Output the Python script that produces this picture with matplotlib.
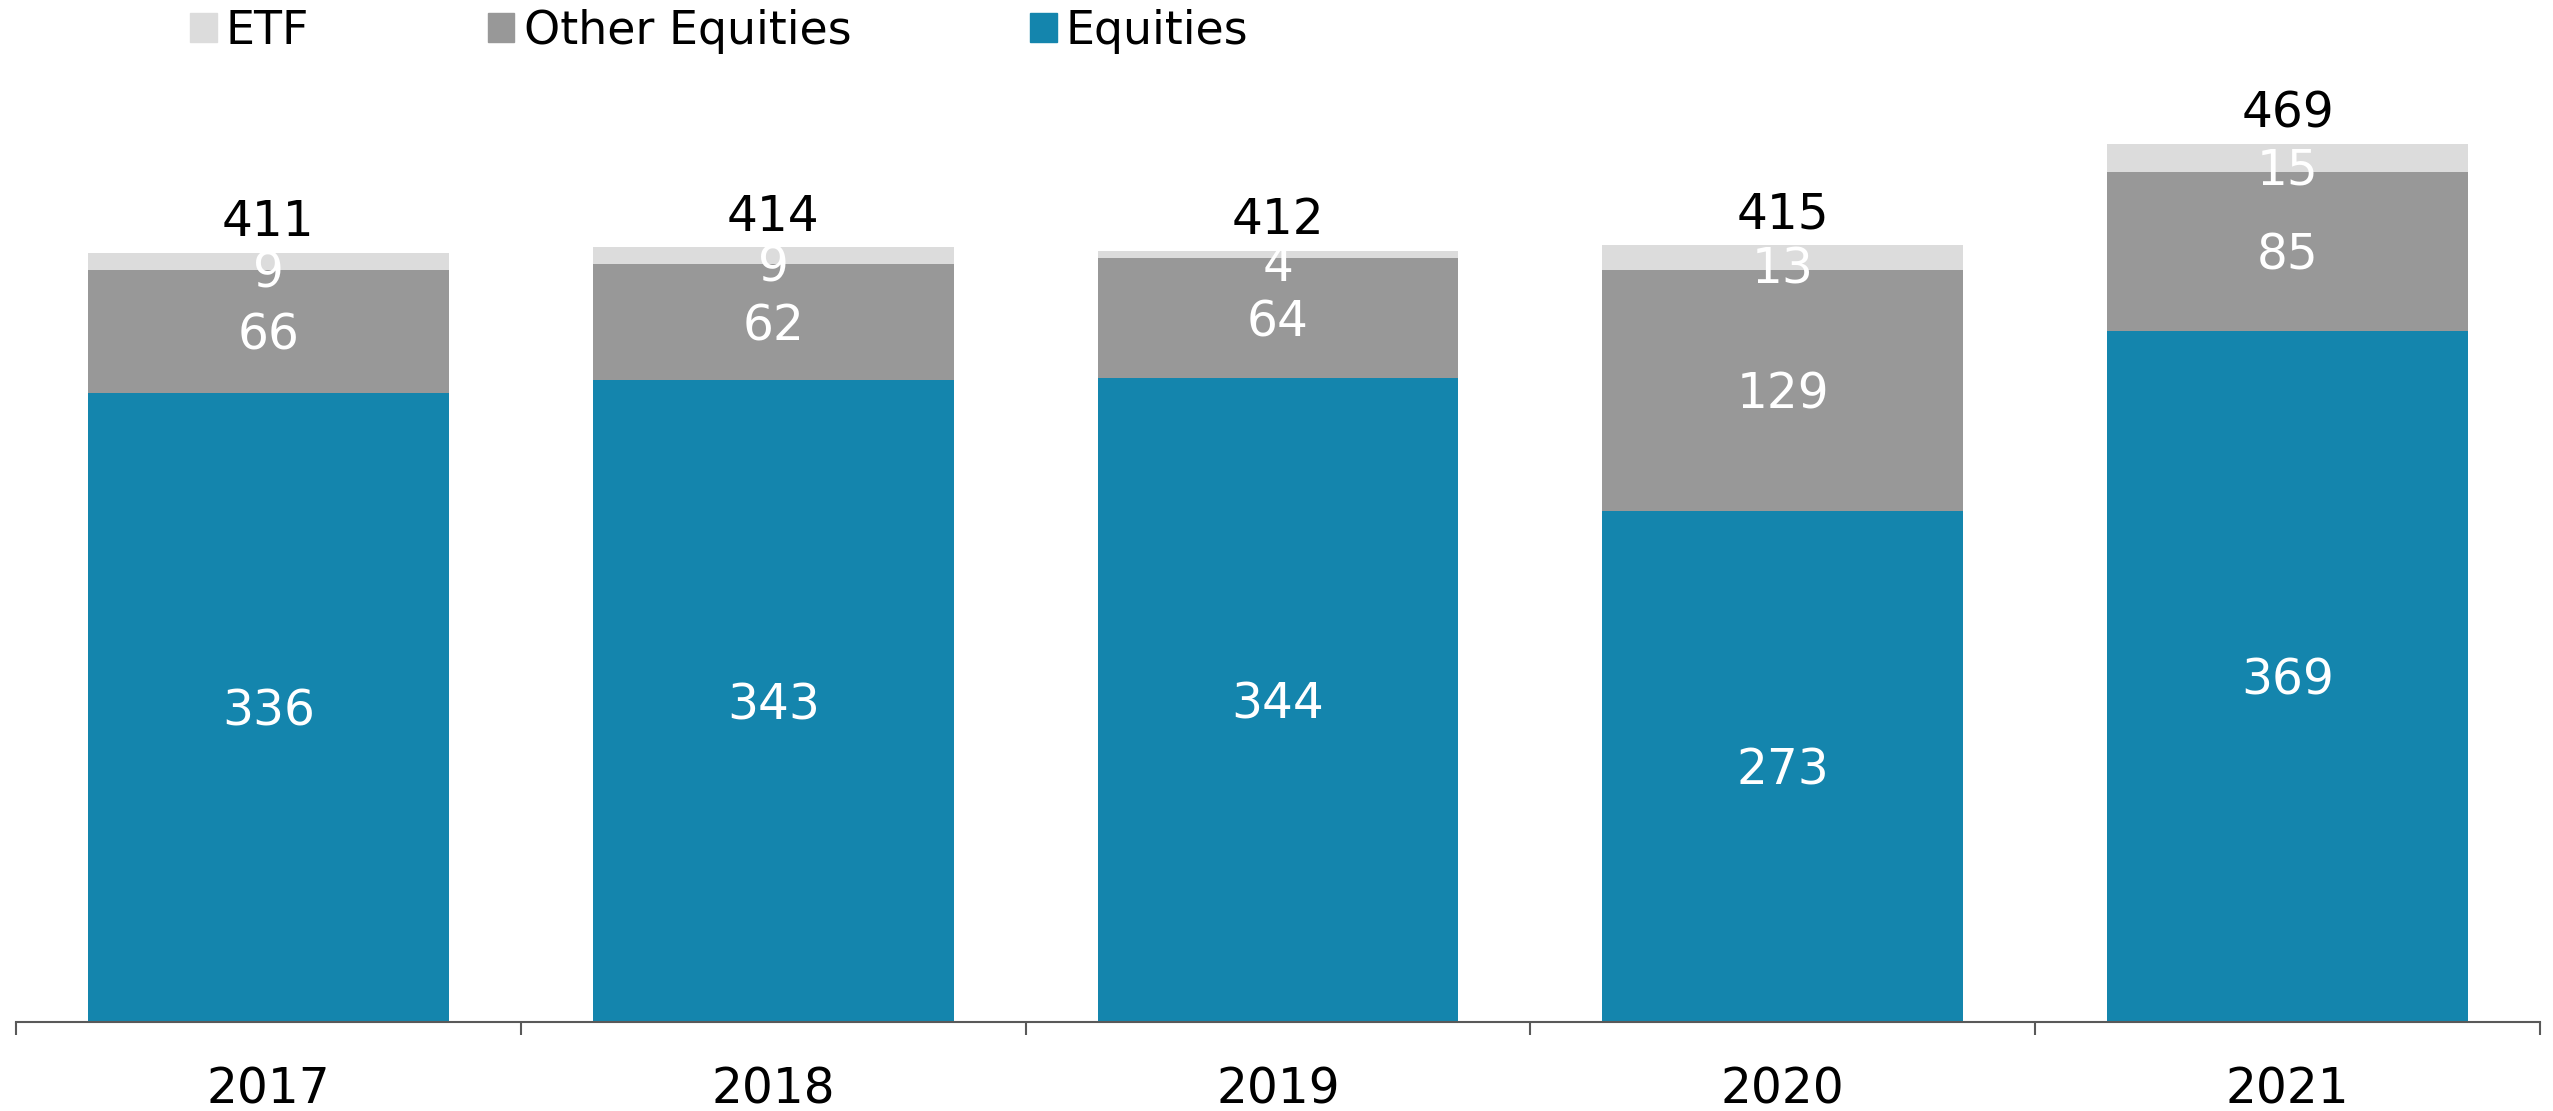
import numpy as np
import matplotlib
matplotlib.use("Agg")
import matplotlib.pyplot as plt
from matplotlib.patches import Patch

# ───── data ─────────────────────────────────────────────
years    = ["2017", "2018", "2019", "2020", "2021"]
equities = [336, 343, 344, 273, 369]
other_eq = [66, 62, 64, 129, 85]
etf      = [9, 9, 4, 13, 15]
totals   = [411, 414, 412, 415, 469]

c_eq, c_oth, c_etf = "#1485ad", "#989898", "#dcdcdc"

plt.rcParams['font.family'] = ['DejaVu Sans']

fig = plt.figure(figsize=(25.53, 11.11), dpi=100)
ax = fig.add_axes([16/2553, 1 - 1022/1111, 2524/2553, 1022/1111])

x = np.arange(len(years))
w = 0.715
eq = np.array(equities)
ot = np.array(other_eq)
et = np.array(etf)

ax.bar(x, eq, w, color=c_eq)
ax.bar(x, ot, w, bottom=eq, color=c_oth)
ax.bar(x, et, w, bottom=eq + ot, color=c_etf)

fs = 35
for i in range(len(x)):
    ax.annotate(str(equities[i]), (x[i], eq[i] / 2), xytext=(0, -3),
                textcoords="offset points", ha="center", va="center",
                color="white", fontsize=fs)
    ax.annotate(str(other_eq[i]), (x[i], eq[i] + ot[i] / 2), xytext=(0, -3),
                textcoords="offset points", ha="center", va="center",
                color="white", fontsize=fs)
    ax.annotate(str(etf[i]), (x[i], eq[i] + ot[i] + et[i] / 2), xytext=(0, -9),
                textcoords="offset points", ha="center", va="center",
                color="white", fontsize=fs)
    ax.annotate(str(totals[i]), (x[i], totals[i]), xytext=(0, 22),
                textcoords="offset points", ha="center", va="center",
                color="black", fontsize=fs)

ax.set_xlim(-0.5, len(x) - 0.5)
ax.set_ylim(0, 546)
ax.set_yticks([])
for s in ["left", "right", "top"]:
    ax.spines[s].set_visible(False)
ax.spines["bottom"].set_color("#595959")
ax.spines["bottom"].set_linewidth(1.5)

ax.set_xticks(x)
ax.set_xticklabels(years, fontsize=fs)
ax.tick_params(axis="x", which="major", length=0, pad=31)
ax.set_xticks(np.arange(-0.5, len(x), 1.0), minor=True)
ax.tick_params(axis="x", which="minor", length=9.5, width=1.5,
               color="#595959", direction="out")

handles = [Patch(color=c_etf, label="ETF"),
           Patch(color=c_oth, label="Other Equities"),
           Patch(color=c_eq, label="Equities")]
fig.legend(handles=handles, loc="center left",
           bbox_to_anchor=(190/2553, 1 - 31/1111), ncol=3, frameon=False,
           fontsize=33, handlelength=0.58, handleheight=0.58,
           handletextpad=0.2, columnspacing=3.9, borderpad=0,
           borderaxespad=0)

fig.savefig("out.png", dpi=100)
